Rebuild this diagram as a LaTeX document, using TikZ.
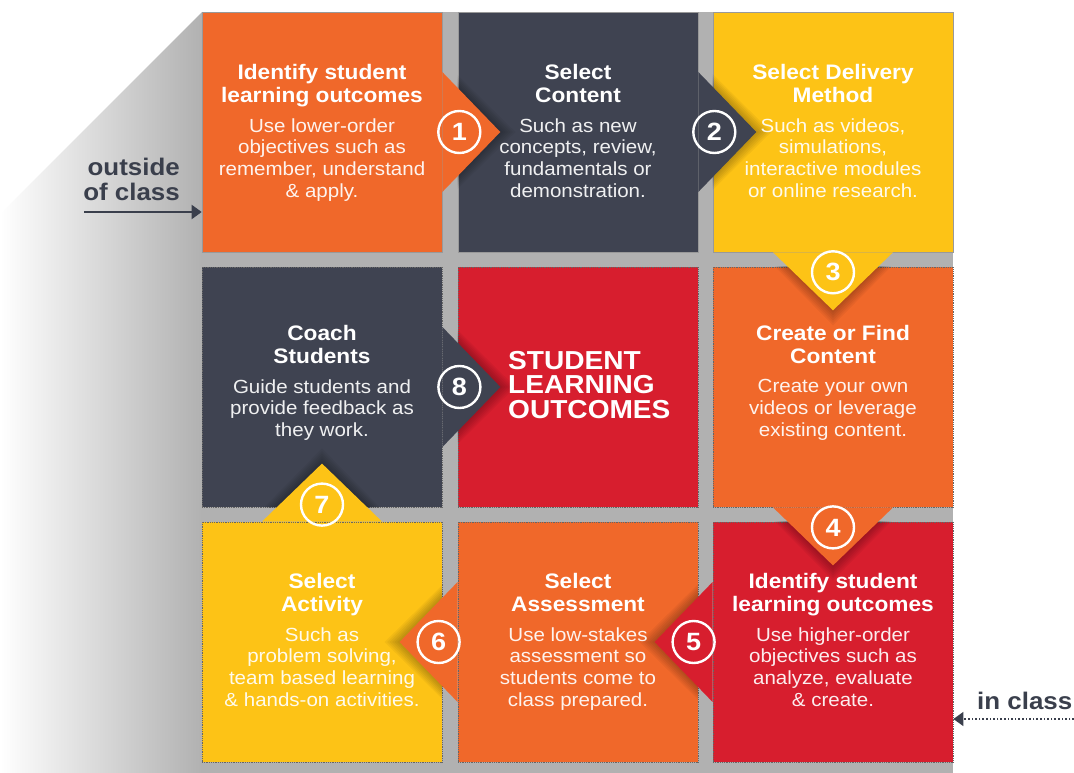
\documentclass[tikz,border=0pt]{standalone}
\usepackage{fontspec}
\setmainfont{Liberation Sans}[FakeStretch=1.08]
\usetikzlibrary{positioning,arrows.meta}
\definecolor{flipOrange}{HTML}{F0682A}
\definecolor{flipSlate}{HTML}{3F4351}
\definecolor{flipYellow}{HTML}{FDC316}
\definecolor{flipRed}{HTML}{D71E2E}
\definecolor{flipGrey}{HTML}{B1B1B1}
\definecolor{labelInk}{HTML}{3A3F4C}

\begin{document}
\begin{tikzpicture}[x=1pt,y=-1pt,node distance=10.5pt,
                    >={Triangle[length=10pt,width=14pt]}]
  \tikzstyle{tile}=[rectangle,minimum size=240pt,inner sep=0pt]
  \tikzstyle{top tile}=[tile,draw=black!40,line width=0.6pt]
  \tikzstyle{low tile}=[tile,draw=black!60,densely dotted,line width=0.8pt]
  \tikzstyle{heading}=[anchor=north,align=center,inner sep=0pt,text=white,
    text depth=4.6pt,font=\fontsize{21}{23}\selectfont\bfseries]
  \tikzstyle{blurb}=[align=center,inner sep=0pt,text=white,text opacity=0.92,
    font=\fontsize{19}{21.7}\selectfont]
  \tikzstyle{numring}=[circle,draw=white,line width=2.4pt,minimum size=42pt,
    inner sep=0pt,text=white,font=\fontsize{25}{25}\selectfont\bfseries]
  \tikzstyle{side label}=[inner sep=0pt,text=labelInk,
    font=\fontsize{24}{24.5}\selectfont\bfseries]

  \useasboundingbox (0,0) rectangle (1074,773);
  \shade[left color=white,right color=flipGrey]
    (0,773) -- (0,214) -- (202,12) -- (202,773) -- cycle;
  \fill[flipGrey] (202,12) rectangle (953,773);

  \node[top tile,fill=flipOrange] (c11) at (322,132) {};
  \node[top tile,fill=flipSlate]  (c12) at (578,132) {};
  \node[top tile,fill=flipYellow] (c13) at (833,132) {};
  \node[low tile,fill=flipSlate]  (c21) at (322,387) {};
  \node[low tile,fill=flipRed]    (c22) at (578,387) {};
  \node[low tile,fill=flipOrange] (c23) at (833,387) {};
  \node[low tile,fill=flipYellow] (c31) at (322,642) {};
  \node[low tile,fill=flipOrange] (c32) at (578,642) {};
  \node[low tile,fill=flipRed]    (c33) at (833,642) {};

  % pointers with their soft shadows
  \begin{scope}
    \clip (c12.north west) rectangle (c12.south east);
    \foreach \k in {1,...,6}
      \fill[black,opacity=0.045] ([yshift=60+2*\k]c11.east) -- ([xshift=58+2.5*\k]c11.east) -- ([yshift=-60-2*\k]c11.east) -- cycle;
  \end{scope}
  \fill[flipOrange] ([yshift=60]c11.east) -- ([xshift=58]c11.east) -- ([yshift=-60]c11.east) -- cycle;

  \begin{scope}
    \clip (c13.north west) rectangle (c13.south east);
    \foreach \k in {1,...,6}
      \fill[black,opacity=0.045] ([yshift=60+2*\k]c12.east) -- ([xshift=58+2.5*\k]c12.east) -- ([yshift=-60-2*\k]c12.east) -- cycle;
  \end{scope}
  \fill[flipSlate] ([yshift=60]c12.east) -- ([xshift=58]c12.east) -- ([yshift=-60]c12.east) -- cycle;

  \begin{scope}
    \clip (c23.north west) rectangle (c23.south east);
    \foreach \k in {1,...,6}
      \fill[black,opacity=0.045] ([xshift=-60-2*\k]c13.south) -- ([yshift=-58-2.5*\k]c13.south) -- ([xshift=60+2*\k]c13.south) -- cycle;
  \end{scope}
  \fill[flipYellow] ([xshift=-60]c13.south) -- ([yshift=-58]c13.south) -- ([xshift=60]c13.south) -- cycle;

  \begin{scope}
    \clip (c33.north west) rectangle (c33.south east);
    \foreach \k in {1,...,6}
      \fill[black,opacity=0.045] ([xshift=-60-2*\k]c23.south) -- ([yshift=-58-2.5*\k]c23.south) -- ([xshift=60+2*\k]c23.south) -- cycle;
  \end{scope}
  \fill[flipOrange] ([xshift=-60]c23.south) -- ([yshift=-58]c23.south) -- ([xshift=60]c23.south) -- cycle;

  \begin{scope}
    \clip (c32.north west) rectangle (c32.south east);
    \foreach \k in {1,...,6}
      \fill[black,opacity=0.045] ([yshift=60+2*\k]c33.west) -- ([xshift=-58-2.5*\k]c33.west) -- ([yshift=-60-2*\k]c33.west) -- cycle;
  \end{scope}
  \fill[flipRed] ([yshift=60]c33.west) -- ([xshift=-58]c33.west) -- ([yshift=-60]c33.west) -- cycle;

  \begin{scope}
    \clip (c31.north west) rectangle (c31.south east);
    \foreach \k in {1,...,6}
      \fill[black,opacity=0.045] ([yshift=60+2*\k]c32.west) -- ([xshift=-58-2.5*\k]c32.west) -- ([yshift=-60-2*\k]c32.west) -- cycle;
  \end{scope}
  \fill[flipOrange] ([yshift=60]c32.west) -- ([xshift=-58]c32.west) -- ([yshift=-60]c32.west) -- cycle;

  \begin{scope}
    \clip (c21.north west) rectangle (c21.south east);
    \foreach \k in {1,...,6}
      \fill[black,opacity=0.045] ([xshift=-60-2*\k]c31.north) -- ([yshift=58+2.5*\k]c31.north) -- ([xshift=60+2*\k]c31.north) -- cycle;
  \end{scope}
  \fill[flipYellow] ([xshift=-60]c31.north) -- ([yshift=58]c31.north) -- ([xshift=60]c31.north) -- cycle;

  \begin{scope}
    \clip (c22.north west) rectangle (c22.south east);
    \foreach \k in {1,...,6}
      \fill[black,opacity=0.045] ([yshift=60+2*\k]c21.east) -- ([xshift=58+2.5*\k]c21.east) -- ([yshift=-60-2*\k]c21.east) -- cycle;
  \end{scope}
  \fill[flipSlate] ([yshift=60]c21.east) -- ([xshift=58]c21.east) -- ([yshift=-60]c21.east) -- cycle;

  \node[numring] (r1) at ([xshift=17]c11.east)  {1};
  \node[numring] (r2) at ([xshift=16]c12.east)  {2};
  \node[numring] (r3) at ([yshift=-20]c13.south) {3};
  \node[numring] (r4) at ([yshift=-20]c23.south) {4};
  \node[numring] (r5) at ([xshift=-19]c33.west)  {5};
  \node[numring] (r6) at ([xshift=-19]c32.west)  {6};
  \node[numring] (r7) at ([yshift=17]c31.north)  {7};
  \node[numring] (r8) at ([xshift=17]c21.east)  {8};

  \node[heading] (t11) at (322,64.5) {Identify student\\learning outcomes};
  \node[blurb,below=of t11] (b11) {Use lower-order\\objectives such as\\remember, understand\\\& apply.};
  \node[heading] (t12) at (578,64.5) {Select\\Content};
  \node[blurb,below=of t12] (b12) {Such as new\\concepts, review,\\fundamentals or\\demonstration.};
  \node[heading] (t13) at (833,64.5) {Select Delivery\\Method};
  \node[blurb,below=of t13] (b13) {Such as videos,\\simulations,\\interactive modules\\or online research.};

  \node[heading] (t21) at (322,325.5) {Coach\\Students};
  \node[blurb,below=of t21] (b21) {Guide students and\\provide feedback as\\they work.};
  \node[anchor=north west,align=left,inner sep=0pt,text=white,
        font=\fontsize{26}{24.5}\selectfont\bfseries] (t22) at (508,351) {STUDENT\\LEARNING\\OUTCOMES};
  \node[heading] (t23) at (833,325.5) {Create or Find\\Content};
  \node[blurb,below=of t23] (b23) {Create your own\\videos or leverage\\existing content.};

  \node[heading] (t31) at (322,573.5) {Select\\Activity};
  \node[blurb,below=of t31] (b31) {Such as\\problem solving,\\team based learning\\\& hands-on activities.};
  \node[heading] (t32) at (578,573.5) {Select\\Assessment};
  \node[blurb,below=of t32] (b32) {Use low-stakes\\assessment so\\students come to\\class prepared.};
  \node[heading] (t33) at (833,573.5) {Identify student\\learning outcomes};
  \node[blurb,below=of t33] (b33) {Use higher-order\\objectives such as\\analyze, evaluate\\\& create.};

  \node[side label,anchor=north east,align=right] (outside) at (180,158) {outside\\of class};
  \coordinate (outTail) at (84,212);
  \draw[labelInk,line width=2pt,->] (outTail) -- (outTail -| c11.west);

  \node[side label,anchor=north west] (inside) at (977,692) {in class};
  \coordinate (inTail) at (1074,719);
  \draw[labelInk,line width=1.6pt,dotted,->] (inTail) -- (inTail -| c33.east);
\end{tikzpicture}
\end{document}
